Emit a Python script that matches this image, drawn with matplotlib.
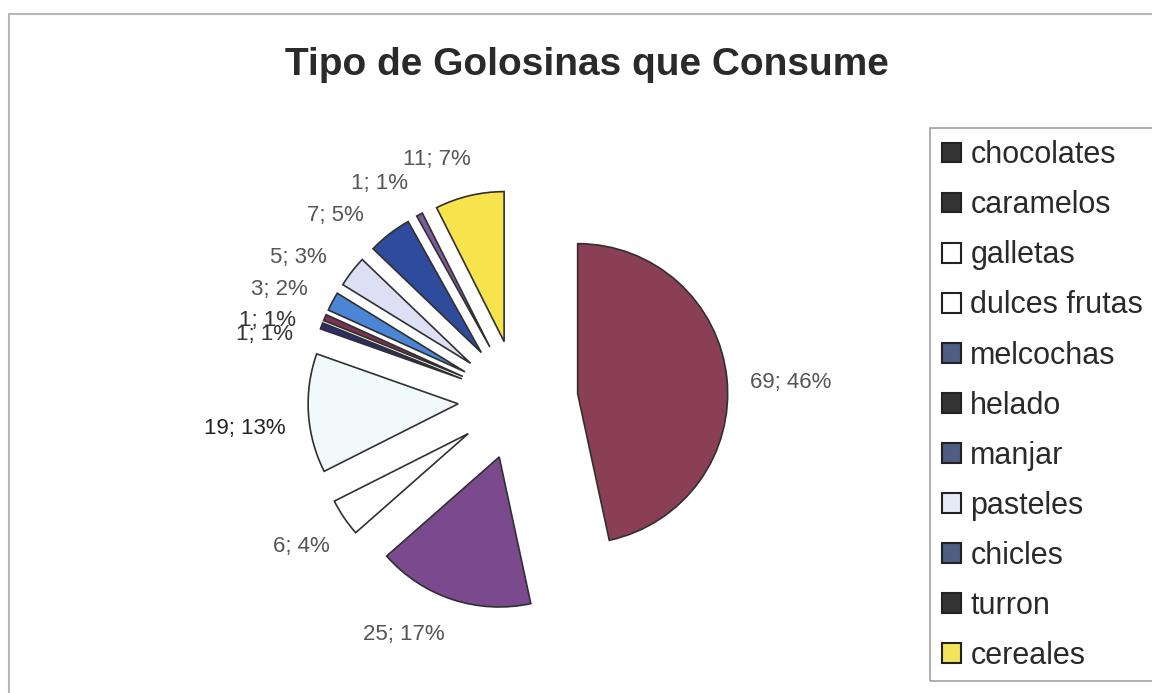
import numpy as np
import matplotlib
matplotlib.use('Agg')
import matplotlib.pyplot as plt
from matplotlib.patches import Patch, Rectangle

plt.rcParams['font.family'] = ['Liberation Sans', 'DejaVu Sans']

categories = ['chocolates', 'caramelos', 'galletas', 'dulces frutas', 'melcochas',
              'helado', 'manjar', 'pasteles', 'chicles', 'turron', 'cereales']
counts = [69, 25, 6, 19, 1, 1, 3, 5, 7, 1, 11]
percents = [46, 17, 4, 13, 1, 1, 2, 3, 5, 1, 7]

pie_colors = ['#8a3f56', '#7b4a8e', '#ffffff', '#f1fafa', '#2c2d6b', '#7a3350',
              '#4b86d6', '#dde0f5', '#2f4b9b', '#7e5a9e', '#f7e34b']
legend_colors = ['#333333', '#333333', '#ffffff', '#ffffff', '#4e5d83', '#333333',
                 '#4e5d83', '#e6eaf6', '#4e5d83', '#333333', '#f4e35a']

labels = ['{}; {}%'.format(c, p) for c, p in zip(counts, percents)]

W, H = 1152, 693
R = 150
CX, CY = 518, H - 400
EXPL = 0.4 * R
# best-fit style label angle nudges (degrees)
nudge = [-3, -10, 0, 3, 8, 7, 4, 6, 9, 6, 7]

fig = plt.figure(figsize=(W / 100, H / 100), dpi=100)
ax = fig.add_axes([0, 0, 1, 1])

# outer chart frame
ax.add_patch(Rectangle((9, -10), W + 20, H - 14 + 10, fill=False,
                       edgecolor='#b8b8b8', linewidth=1.5))

wedges, _ = ax.pie(counts, colors=pie_colors, startangle=90, counterclock=False,
                   center=(CX, CY), radius=R, explode=[EXPL] * len(counts), frame=True,
                   wedgeprops=dict(edgecolor='#303030', linewidth=1.2))
ax.set_xlim(0, W)
ax.set_ylim(0, H)
ax.set_aspect('equal')
ax.axis('off')

# data labels placed just outside each exploded wedge
renderer = fig.canvas.get_renderer()
for i, w in enumerate(wedges):
    mid = np.deg2rad((w.theta1 + w.theta2) / 2)
    ex, ey = w.center
    ang = mid + np.deg2rad(nudge[i])
    ux, uy = np.cos(ang), np.sin(ang)
    color = '#555555'
    if i == 3:
        color = '#222222'
    elif i in (4, 5):
        color = '#333333'
    t = ax.text(0, 0, labels[i], fontsize=16, color=color, ha='center', va='center')
    bb = t.get_window_extent(renderer)
    d = 1.15 * R + 0.5 * (bb.width * abs(ux) + bb.height * abs(uy))
    t.set_position((ex + d * ux, ey + d * uy))

ax.text(587, H - 65, 'Tipo de Golosinas que Consume', fontsize=28, fontweight='bold',
        color='#2a2a2a', ha='center', va='center')

# legend box
ax.add_patch(Rectangle((930, H - 681), 250, 553, fill=False,
                       edgecolor='#a0a0a0', linewidth=1.2))
handles = [Patch(facecolor=c, edgecolor='#222222', linewidth=1.5) for c in legend_colors]
fig.legend(handles, categories, loc='upper left', bbox_to_anchor=(930 / W, 1 - 128 / H),
           frameon=False, fontsize=22, handlelength=0.62, handleheight=0.62,
           handletextpad=0.3, labelspacing=0.657, borderaxespad=0, labelcolor='#2a2a2a')

fig.savefig('out.png', dpi=100)
